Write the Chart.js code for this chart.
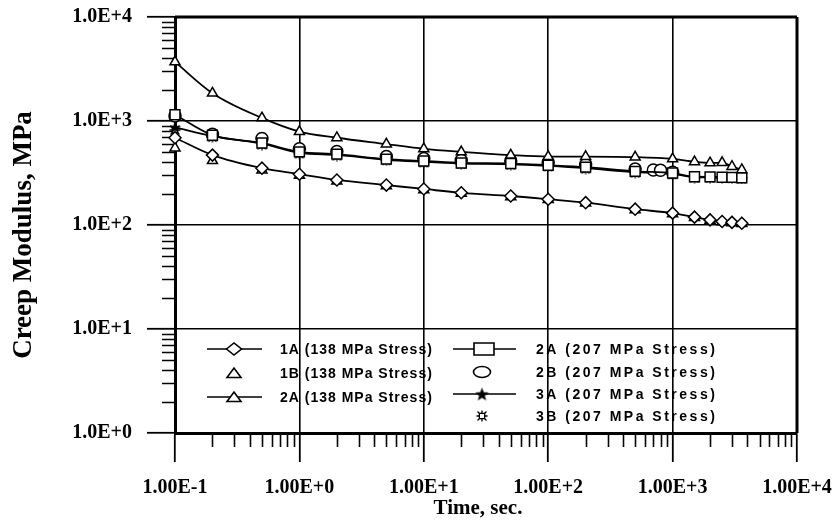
<!DOCTYPE html>
<html>
<head>
<meta charset="utf-8">
<script src="https://cdn.jsdelivr.net/npm/chart.js@4/dist/chart.umd.min.js"></script>
<style>
  html, body { margin: 0; padding: 0; background: #fff; }
  canvas { display: block; }
</style>
</head>
<body>
<canvas id="chart" width="832" height="522"></canvas>
<script>
// Creep test sampling times (s)
const times = [0.1, 0.2, 0.5, 1, 2, 5, 10, 20, 50, 100, 200, 500, 1000, 1500, 2000, 2500, 3000, 3600];
const times2B = [0.1, 0.2, 0.5, 1, 2, 5, 10, 20, 50, 100, 200, 500, 700, 800, 1000];

// Creep modulus per specimen (MPa)
const mod1A138 = [690, 470, 352, 308, 271, 242, 222, 204, 190, 177, 164, 142, 130, 119, 112, 108, 106, 104];
const mod1B138 = [550, 415, 338, 300, 265, 238, 218, 201, 187, 175, 162, 140, 128, 118, 111, 107, 105, 103];
const mod2A138 = [3700, 1850, 1070, 790, 690, 600, 540, 505, 470, 455, 455, 450, 432, 405, 395, 398, 365, 340];
const mod2A207 = [1150, 730, 615, 505, 480, 430, 413, 395, 390, 376, 360, 328, 316, 291, 290, 288, 287, 285];
const mod2B207 = [1120, 745, 680, 540, 510, 455, 435, 420, 412, 398, 382, 345, 338, 336, 322];
const mod3A207 = [870, 715, 605, 495, 472, 424, 405, 390, 384, 370, 352, 322, 311, 288, 287, 286, 285, 283];
const mod3B207 = [820, 700, 592, 486, 465, 420, 400, 386, 380, 366, 348, 318, 307, 285, 284, 283, 282, 280];

const seriesLabels = [
  '1A (138 MPa Stress)', '1B (138 MPa Stress)', '2A (138 MPa Stress)',
  '2A (207 MPa Stress)', '2B (207 MPa Stress)', '3A (207 MPa Stress)', '3B (207 MPa Stress)'
];

// Decade ticks and their labels
const xTickValues = [0.1, 1, 10, 100, 1000, 10000];
const xTickLabels = ['1.00E-1', '1.00E+0', '1.00E+1', '1.00E+2', '1.00E+3', '1.00E+4'];
const yTickValues = [1, 10, 100, 1000, 10000];
const yTickLabels = ['1.0E+0', '1.0E+1', '1.0E+2', '1.0E+3', '1.0E+4'];

const xTitle = 'Time, sec.';
const yTitle = 'Creep Modulus, MPa';

// ---- custom marker images ----
function makeStar(size) {
  const c = document.createElement('canvas');
  c.width = size; c.height = size;
  const g = c.getContext('2d');
  const cx = size / 2, cy = size / 2 + 0.7;
  const ro = size / 2 - 0.3, ri = ro * 0.42;
  g.beginPath();
  for (let i = 0; i < 10; i++) {
    const r = i % 2 ? ri : ro;
    const a = -Math.PI / 2 + i * Math.PI / 5;
    g.lineTo(cx + r * Math.cos(a), cy + r * Math.sin(a));
  }
  g.closePath();
  g.fillStyle = '#000';
  g.fill();
  return c;
}
function makeBurst(size) {
  const c = document.createElement('canvas');
  c.width = size; c.height = size;
  const g = c.getContext('2d');
  const m = size / 2, b = size * 0.22;
  g.strokeStyle = '#000';
  g.lineWidth = 1.3;
  g.fillStyle = '#fff';
  g.fillRect(m - b, m - b, 2 * b, 2 * b);
  g.strokeRect(m - b, m - b, 2 * b, 2 * b);
  g.beginPath();
  g.moveTo(m, 0.5); g.lineTo(m, m - b);
  g.moveTo(m, m + b); g.lineTo(m, size - 0.5);
  g.moveTo(0.5, m); g.lineTo(m - b, m);
  g.moveTo(m + b, m); g.lineTo(size - 0.5, m);
  g.moveTo(1.5, 1.5); g.lineTo(m - b, m - b);
  g.moveTo(size - 1.5, 1.5); g.lineTo(m + b, m - b);
  g.moveTo(1.5, size - 1.5); g.lineTo(m - b, m + b);
  g.moveTo(size - 1.5, size - 1.5); g.lineTo(m + b, m + b);
  g.stroke();
  return c;
}
const starImg = makeStar(13);
const burstImg = makeBurst(12);
const starLegendImg = makeStar(15);

function pts(xs, ys) { return xs.map((x, i) => ({ x: x, y: ys[i] })); }

function series(label, xs, ys, style, radius, withLine) {
  return {
    label: label,
    data: pts(xs, ys),
    showLine: withLine,
    borderColor: '#000',
    borderWidth: 1.8,
    cubicInterpolationMode: 'monotone',
    pointStyle: style,
    pointRadius: radius,
    pointBorderWidth: 1.5,
    pointBorderColor: '#000',
    pointBackgroundColor: '#fff',
    clip: false
  };
}

const datasets = [
  series(seriesLabels[0], times, mod1A138, 'rectRot', 6, true),
  series(seriesLabels[1], times, mod1B138, 'triangle', 5.8, false),
  series(seriesLabels[2], times, mod2A138, 'triangle', 5.8, true),
  series(seriesLabels[3], times, mod2A207, 'rect', 7, true),
  series(seriesLabels[4], times2B, mod2B207, 'circle', 6, false),
  series(seriesLabels[5], times, mod3A207, starImg, 6, true),
  series(seriesLabels[6], times, mod3B207, burstImg, 6, false)
];

// ---- plugins: frame, minor ticks, axis titles, legend ----
const framePlugin = {
  id: 'frame',
  beforeDatasetsDraw(chart) {
    const { ctx, chartArea: a, scales } = chart;
    ctx.save();
    ctx.strokeStyle = '#000';
    ctx.lineWidth = 3;
    ctx.beginPath();
    ctx.moveTo(a.left, a.top); ctx.lineTo(a.right, a.top);
    ctx.moveTo(a.right, a.top); ctx.lineTo(a.right, a.bottom);
    ctx.stroke();

    // minor ticks between decades, outside the axes
    ctx.lineWidth = 1.6;
    ctx.beginPath();
    const xs = scales.x, ys = scales.y;
    for (let d = -1; d < 4; d++) {
      for (let k = 2; k <= 9; k++) {
        const px = Math.round(xs.getPixelForValue(k * Math.pow(10, d))) + 0.5;
        ctx.moveTo(px, a.bottom); ctx.lineTo(px, a.bottom + 14);
      }
    }
    for (let d = 0; d < 4; d++) {
      for (let k = 2; k <= 9; k++) {
        const py = Math.round(ys.getPixelForValue(k * Math.pow(10, d))) + 0.5;
        ctx.moveTo(a.left, py); ctx.lineTo(a.left - 13, py);
      }
    }
    ctx.stroke();
    ctx.restore();
  },
  afterDraw(chart) {
    const { ctx } = chart;
    ctx.save();
    ctx.fillStyle = '#000';
    ctx.textAlign = 'center';
    ctx.textBaseline = 'middle';
    ctx.font = 'bold 21px "Liberation Serif", "Times New Roman", serif';
    ctx.fillText(xTitle, 478, 509);
    ctx.translate(24, 235);
    ctx.rotate(-Math.PI / 2);
    ctx.font = 'bold 27px "Liberation Serif", "Times New Roman", serif';
    ctx.fillText(yTitle, 0, 0);
    ctx.restore();
  }
};

// legend placement inside the plot
const legendLayout = [
  { ds: 0, sym: 'diamond',  x: 234, y: 349, line: [207, 262], tx: 280, spacing: 1 },
  { ds: 1, sym: 'triangle', x: 234, y: 373, line: null,       tx: 280, spacing: 1 },
  { ds: 2, sym: 'triangle', x: 234, y: 397, line: [207, 262], tx: 280, spacing: 1 },
  { ds: 3, sym: 'rect',     x: 484, y: 349, line: [453, 516], tx: 536, spacing: 2.5 },
  { ds: 4, sym: 'ellipse',  x: 482, y: 372, line: null,       tx: 536, spacing: 2.5 },
  { ds: 5, sym: 'star',     x: 482, y: 394, line: [453, 516], tx: 536, spacing: 2.5 },
  { ds: 6, sym: 'burst',    x: 482, y: 416, line: null,       tx: 536, spacing: 2.5 }
];

function drawSymbol(ctx, sym, x, y) {
  ctx.beginPath();
  if (sym === 'diamond') {
    ctx.moveTo(x - 7.5, y); ctx.lineTo(x, y - 6); ctx.lineTo(x + 7.5, y); ctx.lineTo(x, y + 6); ctx.closePath();
  } else if (sym === 'triangle') {
    ctx.moveTo(x - 7, y + 4.5); ctx.lineTo(x, y - 5); ctx.lineTo(x + 7, y + 4.5); ctx.closePath();
  } else if (sym === 'rect') {
    ctx.rect(x - 10, y - 6, 20, 12);
  } else if (sym === 'ellipse') {
    ctx.ellipse(x, y, 8.5, 5.5, 0, 0, Math.PI * 2);
  } else if (sym === 'star') {
    ctx.drawImage(starLegendImg, x - 7.5, y - 7.5);
    return;
  } else if (sym === 'burst') {
    ctx.drawImage(burstImg, x - 6, y - 6);
    return;
  }
  ctx.fillStyle = '#fff';
  ctx.fill();
  ctx.stroke();
}

const legendPlugin = {
  id: 'insideLegend',
  afterDatasetsDraw(chart) {
    const { ctx } = chart;
    ctx.save();
    ctx.strokeStyle = '#000';
    ctx.lineWidth = 1.6;
    legendLayout.forEach(item => {
      if (item.line) {
        ctx.beginPath();
        ctx.moveTo(item.line[0], item.y); ctx.lineTo(item.line[1], item.y);
        ctx.stroke();
      }
      drawSymbol(ctx, item.sym, item.x, item.y);
      ctx.fillStyle = '#000';
      ctx.font = 'bold 14px "Liberation Sans", Arial, sans-serif';
      ctx.textAlign = 'left';
      ctx.textBaseline = 'middle';
      ctx.letterSpacing = item.spacing + 'px';
      ctx.fillText(chart.data.datasets[item.ds].label, item.tx, item.y + 1);
    });
    ctx.restore();
  }
};

const tickFont = { family: '"Liberation Serif", "Times New Roman", serif', size: 20, weight: 'bold' };

new Chart(document.getElementById('chart'), {
  type: 'line',
  data: { datasets: datasets },
  plugins: [framePlugin, legendPlugin],
  options: {
    responsive: false,
    animation: false,
    events: [],
    layout: { padding: { left: 0, top: 17, right: 35, bottom: 0 } },
    plugins: { legend: { display: false }, tooltip: { enabled: false } },
    scales: {
      x: {
        type: 'logarithmic',
        position: 'bottom',
        min: 0.1,
        max: 10000,
        afterBuildTicks: (s) => { s.ticks = xTickValues.map(v => ({ value: v })); },
        afterFit: (s) => { s.height = 89; s.paddingLeft = 0; s.paddingRight = 0; },
        ticks: {
          autoSkip: false, maxRotation: 0, minRotation: 0,
          padding: 14, color: '#000', font: tickFont,
          callback: (v, i) => xTickLabels[i]
        },
        grid: { color: '#000', lineWidth: 1.6, tickLength: 29, tickWidth: 1.8, tickColor: '#000' },
        border: { display: true, color: '#000', width: 3 },
        title: { display: false }
      },
      y: {
        type: 'logarithmic',
        position: 'left',
        min: 1,
        max: 10000,
        afterBuildTicks: (s) => { s.ticks = yTickValues.map(v => ({ value: v })); },
        afterFit: (s) => { s.width = 175; s.paddingTop = 0; s.paddingBottom = 0; },
        ticks: {
          autoSkip: false, padding: 15, color: '#000', font: tickFont,
          callback: (v, i) => yTickLabels[i]
        },
        grid: { color: '#000', lineWidth: 1.6, tickLength: 28, tickWidth: 1.8, tickColor: '#000' },
        border: { display: true, color: '#000', width: 3 },
        title: { display: false }
      }
    }
  }
});
</script>
</body>
</html>
